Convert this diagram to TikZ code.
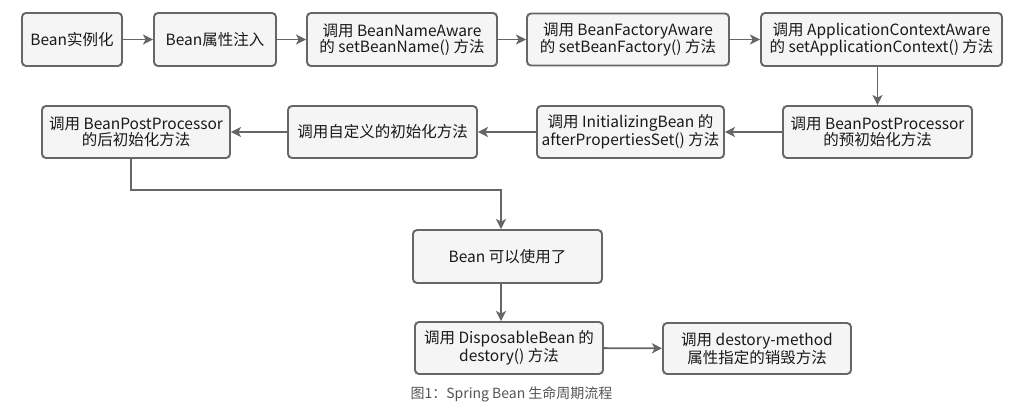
\documentclass[tikz,border=0pt]{standalone}
\usepackage{fontspec}
\setmainfont{Noto Sans CJK SC}
\usetikzlibrary{arrows.meta}
\definecolor{bordergray}{HTML}{666666}
\definecolor{boxfill}{HTML}{F5F5F5}
\definecolor{captiongray}{HTML}{555555}
\tikzset{
  stepbox/.style={draw=bordergray, fill=boxfill, line width=1.9pt, rounded corners=4pt,
    align=center, inner sep=0pt, font=\fontsize{15.5}{14}\selectfont, text=black!90},
  conn/.style={draw=bordergray, line width=1.9pt,
    -{Stealth[length=10pt,width=10pt,inset=2.5pt]}},
}
\begin{document}
\begin{tikzpicture}[x=1pt,y=-1pt]
\useasboundingbox (0,0) rectangle (1023,412);
\node[stepbox, minimum width=100pt, minimum height=53pt] (b1) at (72,39.5) {Bean实例化};
\node[stepbox, minimum width=122pt, minimum height=53pt] (b2) at (215,39.5) {Bean属性注入};
\node[stepbox, minimum width=190pt, minimum height=53pt] (b3) at (402,39.5) {调用 BeanNameAware\\的 setBeanName() 方法};
\node[stepbox, minimum width=202pt, minimum height=52pt] (b4) at (628,39.5) {调用 BeanFactoryAware\\的 setBeanFactory() 方法};
\node[stepbox, minimum width=241pt, minimum height=53pt] (b5) at (881.5,39.5) {调用 ApplicationContextAware\\的 setApplicationContext() 方法};
\node[stepbox, minimum width=189pt, minimum height=52pt] (b6) at (877.5,132) {调用 BeanPostProcessor\\的预初始化方法};
\node[stepbox, minimum width=187pt, minimum height=52pt] (b7) at (630.5,132) {调用 InitializingBean 的\\afterPropertiesSet() 方法};
\node[stepbox, minimum width=189pt, minimum height=52pt] (b8) at (382.5,132) {调用自定义的初始化方法};
\node[stepbox, minimum width=188pt, minimum height=52pt] (b9) at (136,132) {调用 BeanPostProcessor\\的后初始化方法};
\node[stepbox, minimum width=189pt, minimum height=53pt] (b10) at (507.5,256.5) {Bean 可以使用了};
\node[stepbox, minimum width=188pt, minimum height=52pt] (b11) at (509,348) {调用 DisposableBean 的\\destory() 方法};
\node[stepbox, minimum width=188pt, minimum height=51pt] (b12) at (757,348.5) {调用 destory-method\\属性指定的销毁方法};
\node[font=\fontsize{14}{14}\selectfont, text=captiongray, inner sep=0pt] (cap) at (511.5,394) {图1：Spring Bean 生命周期流程};
\coordinate (k1) at (131,190);
\coordinate (k2) at (501,190);
\coordinate (k3) at (501,0);
\draw[conn] (b1) -- (b2);
\draw[conn] (b2) -- (b3);
\draw[conn] (b3) -- (b4);
\draw[conn] (b4) -- (b5);
\draw[conn] (b5.south -| b6.north) -- (b6.north);
\draw[conn] (b6) -- (b7);
\draw[conn] (b7) -- (b8);
\draw[conn] (b8) -- (b9);
\draw[conn] (b9.south -| k1) -- (k1) -- (k2) -- (k2 |- b10.north);
\draw[conn] (b10.south -| k3) -- (b11.north -| k3);
\draw[conn] (b11) -- (b12);
\end{tikzpicture}
\end{document}
